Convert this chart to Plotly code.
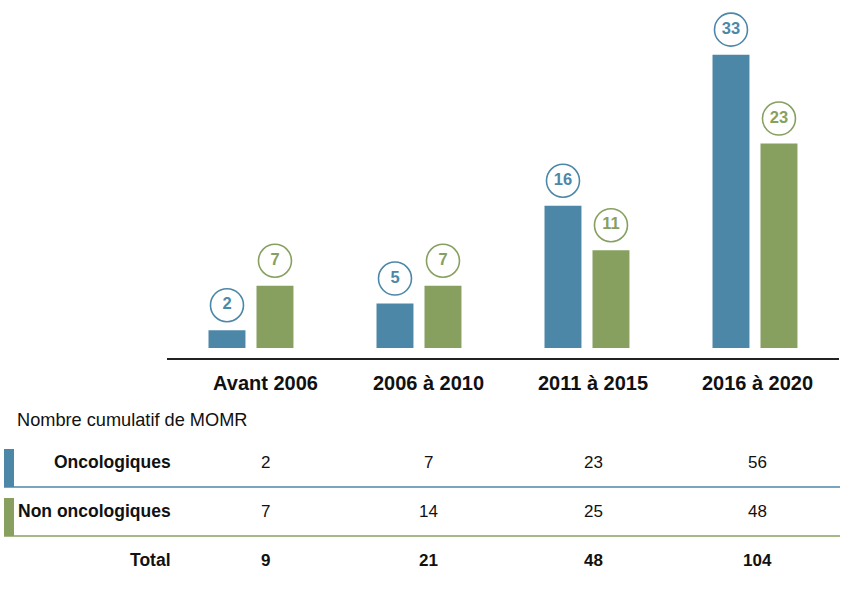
import plotly.graph_objects as go

categories = ["Avant 2006", "2006 à 2010", "2011 à 2015", "2016 à 2020"]
onco = [2, 5, 16, 33]
non_onco = [7, 7, 11, 23]

table_title = "Nombre cumulatif de MOMR"
row_labels = ["Oncologiques", "Non oncologiques", "Total"]
cum_onco = [2, 7, 23, 56]
cum_non_onco = [7, 14, 25, 48]
cum_total = [9, 21, 48, 104]

BLUE = "#4d87a8"
GREEN = "#87a060"
FONT = "Liberation Sans, Arial, sans-serif"

W, H = 849, 590
L = 167
T = 10
R = W - 839
B = H - 358
PW = W - L - R
PH = H - T - B
NCAT = len(categories)
YMIN, YMAX = -1.125, 38.02
scale = PH / (YMAX - YMIN)  # px per unit

def px2x(px):
    return (px - L) / PW

def py2y(py):
    return (H - B - py) / PH

def px2data(px):
    return (px - L) / PW * NCAT - 0.5

xs = list(range(NCAT))
bw = 0.22
off_b = -0.253
off_g = 0.0327
col_px = [265.5, 428.5, 593, 757.5]   # column centres of labels / table
row_py = [462, 511, 560]

fig = go.Figure()
fig.add_trace(go.Bar(x=xs, y=onco, width=bw, offset=off_b, marker_color=BLUE,
                     marker_line_width=0, showlegend=False, hoverinfo="skip"))
fig.add_trace(go.Bar(x=xs, y=non_onco, width=bw, offset=off_g, marker_color=GREEN,
                     marker_line_width=0, showlegend=False, hoverinfo="skip"))

lift = 25 / scale
for vals, off, col in [(onco, off_b, BLUE), (non_onco, off_g, GREEN)]:
    fig.add_trace(go.Scatter(
        x=[i + off + bw / 2 for i in xs],
        y=[v + lift for v in vals],
        mode="markers+text",
        text=[str(v) for v in vals],
        textposition="middle center",
        textfont=dict(family=FONT, size=16.5, color=col, weight="bold"),
        marker=dict(symbol="circle", size=33, color="white",
                    line=dict(color=col, width=1.6)),
        showlegend=False, hoverinfo="skip", cliponaxis=False))

fig.update_layout(
    width=W, height=H,
    margin=dict(l=L, r=R, t=T, b=B),
    paper_bgcolor="white", plot_bgcolor="white",
    barmode="overlay",
    xaxis=dict(range=[-0.5, NCAT - 0.5],
               tickvals=[px2data(p) for p in col_px], ticktext=categories,
               showgrid=False, zeroline=False, showline=True, linecolor="#222",
               linewidth=1.5, ticks="outside", ticklen=6, tickcolor="rgba(0,0,0,0)",
               tickfont=dict(family=FONT, size=20, color="#111", weight="bold")),
    yaxis=dict(range=[YMIN, YMAX], visible=False, showgrid=False, zeroline=False),
)

ann = []
ann.append(dict(text=table_title, x=px2x(15), y=py2y(420), xanchor="left", yanchor="middle",
                font=dict(family=FONT, size=18.2, color="#111")))
rows = [cum_onco, cum_non_onco, cum_total]
for r, (lab, vals, ypx) in enumerate(zip(row_labels, rows, row_py)):
    ann.append(dict(text=lab, x=px2x(173), y=py2y(ypx), xanchor="right", yanchor="middle",
                    font=dict(family=FONT, size=17.5, color="#111", weight="bold")))
    for v, cx in zip(vals, col_px):
        ann.append(dict(text=str(v), x=px2x(cx), y=py2y(ypx), xanchor="center", yanchor="middle",
                        font=dict(family=FONT, size=17, color="#111",
                                  weight="bold" if r == 2 else "normal")))
for a in ann:
    a.update(xref="paper", yref="paper", showarrow=False)
fig.update_layout(annotations=ann)

shapes = []
for (y0, y1, col) in [(449, 487, BLUE), (498, 536, GREEN)]:
    shapes.append(dict(type="rect", xref="paper", yref="paper",
                       x0=px2x(4), x1=px2x(14), y0=py2y(y1), y1=py2y(y0),
                       fillcolor=col, line_width=0))
    shapes.append(dict(type="line", xref="paper", yref="paper",
                       x0=px2x(4), x1=px2x(840), y0=py2y(y1), y1=py2y(y1),
                       line=dict(color=col, width=1.5)))
fig.update_layout(shapes=shapes)

fig.write_html("out.html", config={"displayModeBar": False},
               post_script="document.body.style.margin='0';")
